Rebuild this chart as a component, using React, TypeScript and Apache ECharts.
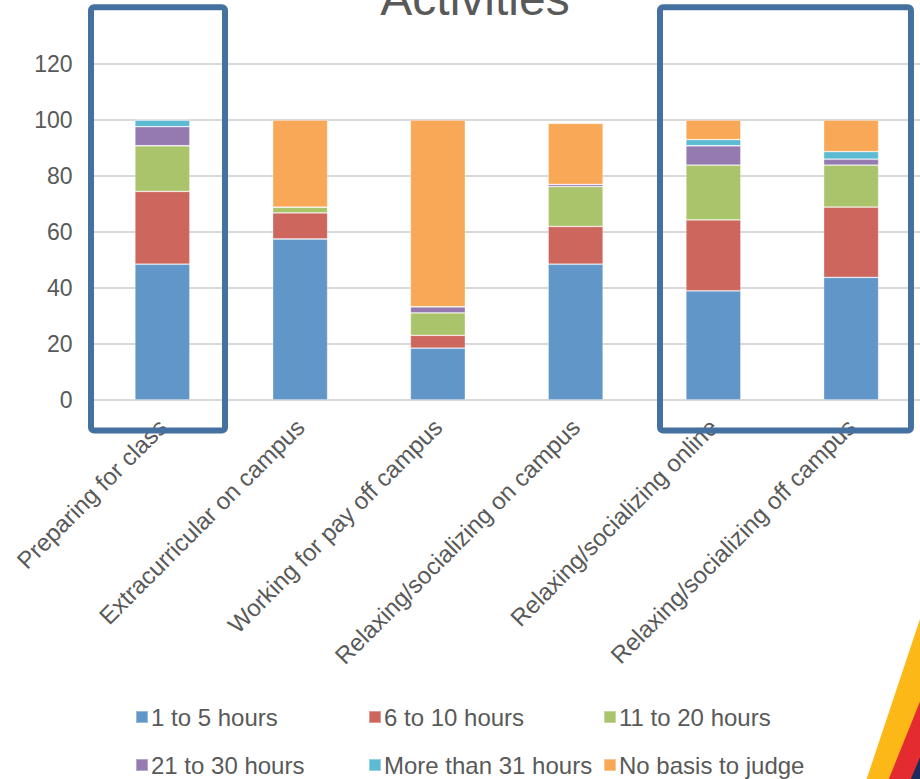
import React, { useEffect, useRef } from "react";
import * as echarts from "echarts";

const categories = [
  "Preparing for class",
  "Extracurricular on campus",
  "Working for pay off campus",
  "Relaxing/socializing on campus",
  "Relaxing/socializing online",
  "Relaxing/socializing off campus",
];
const seriesNames = [
  "1 to 5 hours",
  "6 to 10 hours",
  "11 to 20 hours",
  "21 to 30 hours",
  "More than 31 hours",
  "No basis to judge",
];
const h1to5 = [48.5, 57.5, 18.5, 48.5, 39, 43.8];
const h6to10 = [26, 9.3, 4.6, 13.5, 25.3, 25.1];
const h11to20 = [16.3, 2.1, 8, 14.2, 19.6, 15];
const h21to30 = [6.8, 0, 2.2, 0.8, 6.9, 2.1];
const h31plus = [2.4, 0, 0, 0, 2.2, 2.7];
const noBasis = [0, 31.1, 66.7, 21.8, 7, 11.3];
const yTicks = [0, 20, 40, 60, 80, 100, 120];

const colors = ["#6196C8", "#CD665D", "#AAC46B", "#957AAF", "#5CBAD3", "#F9A857"];
const FONT = "'Liberation Sans', Arial, sans-serif";
const TEXT = "#595959";

export default function App() {
  const ref = useRef<HTMLDivElement>(null);
  useEffect(() => {
    if (!ref.current) return;
    const chart = echarts.init(ref.current, undefined, { renderer: "svg" });
    const values = [h1to5, h6to10, h11to20, h21to30, h31plus, noBasis];
    const legendPos = [
      [135, 705],
      [368, 705],
      [603, 705],
      [135, 753],
      [368, 753],
      [603, 753],
    ];
    chart.setOption({
      animation: false,
      textStyle: { fontFamily: FONT },
      grid: { left: 93.5, top: 64, width: 828, height: 336 },
      legend: seriesNames.map((n, i) => ({
        data: [n],
        left: legendPos[i][0],
        top: legendPos[i][1],
        padding: 0,
        itemWidth: 12,
        itemHeight: 12,
        icon: "rect",
        selectedMode: false,
        textStyle: { fontSize: 24, color: TEXT, fontFamily: FONT, padding: [0, 0, 0, -2] },
      })),
      xAxis: {
        type: "category",
        data: categories,
        axisLine: { show: false },
        axisTick: { show: false },
        axisLabel: {
          interval: 0,
          rotate: 45,
          margin: 23,
          padding: [11, 0, 0, 0],
          fontSize: 24,
          color: TEXT,
          fontFamily: FONT,
        },
      },
      yAxis: {
        type: "value",
        min: yTicks[0],
        max: yTicks[yTicks.length - 1],
        interval: 20,
        axisLine: { show: false },
        axisTick: { show: false },
        axisLabel: { margin: 21, fontSize: 23, color: TEXT, fontFamily: FONT },
        splitLine: { lineStyle: { color: "#D9D9D9", width: 2 } },
      },
      series: seriesNames.map((n, i) => ({
        name: n,
        type: "bar",
        stack: "total",
        barWidth: 55,
        data: values[i],
        itemStyle: {
          color: colors[i],
          borderColor: "rgba(255,255,255,0.35)",
          borderWidth: 0.8,
        },
      })),
      graphic: [
        {
          type: "text",
          x: 475,
          y: -2,
          style: {
            text: "Activities",
            fontSize: 48,
            fontFamily: FONT,
            fill: TEXT,
            textAlign: "center",
            textVerticalAlign: "middle",
          },
        },
        {
          type: "rect",
          z: 100,
          shape: { x: 91, y: 7.3, width: 134, height: 423.2, r: 3 },
          style: { fill: "none", stroke: "#44719F", lineWidth: 6 },
        },
        {
          type: "rect",
          z: 100,
          shape: { x: 660, y: 7.3, width: 251, height: 423.2, r: 3 },
          style: { fill: "none", stroke: "#44719F", lineWidth: 6 },
        },
        {
          type: "polygon",
          z: 100,
          shape: { points: [[921, 616], [866, 781], [930, 781], [930, 616]] },
          style: { fill: "#FBB817" },
        },
        {
          type: "polygon",
          z: 101,
          shape: { points: [[921, 699], [888, 781], [930, 781], [930, 699]] },
          style: { fill: "#E42B2F" },
        },
        {
          type: "polygon",
          z: 102,
          shape: { points: [[921, 755], [910, 781], [930, 781], [930, 755]] },
          style: { fill: "#1B2B5B" },
        },
      ],
    });
    return () => chart.dispose();
  }, []);
  return (
    <div
      ref={ref}
      style={{ position: "absolute", left: 0, top: 0, width: 920, height: 779, overflow: "hidden" }}
    />
  );
}
